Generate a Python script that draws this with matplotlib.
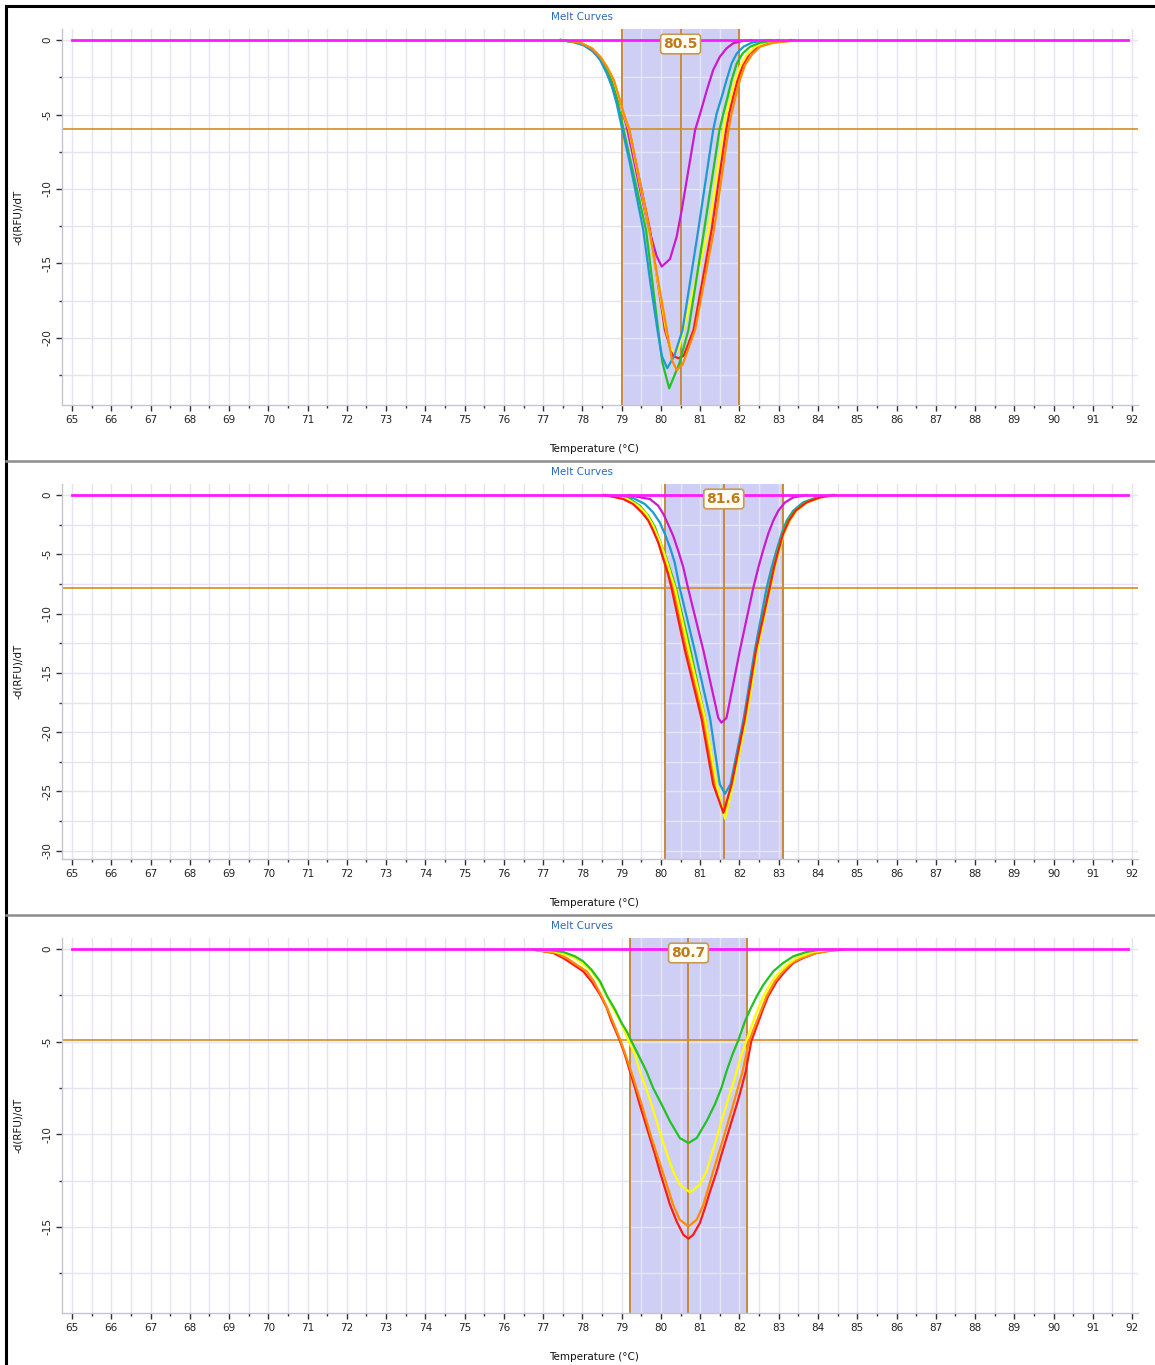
import matplotlib
matplotlib.use("Agg")
import matplotlib.pyplot as plt
from matplotlib.lines import Line2D
from matplotlib.transforms import blended_transform_factory
import numpy as np

plt.rcParams["axes.unicode_minus"] = False

RED = "#ff1a1a"
ORANGE = "#ff8c00"
YELLOW = "#ffff00"
GREEN = "#22c222"
BLUE = "#1e9ad2"
MAGENTA = "#cc19cc"
FLAT_MAGENTA = "#ff19ff"
BROWN = "#c8893a"

# magenta baseline trace drawn across the whole run
FLAT_T = [65.0, 91.9]
FLAT_V = [0.0, 0.0]

# ---- panel 1 (peak 80.5) ----
P1_ZONE = [79.0, 82.0]
P1_PEAK = 80.5
P1_THRESHOLD = -6.0

P1_MAGENTA_T = [77.45, 77.94, 78.19, 78.36, 78.53, 78.70, 78.83, 78.96, 79.13, 79.47, 79.70, 79.89, 80.02,
                80.23, 80.40, 80.53, 80.70, 80.87, 81.00, 81.17, 81.33, 81.50, 81.67, 81.84, 82.06, 82.30]
P1_MAGENTA_V = [0, -0.18, -0.56, -1.01, -1.57, -2.35, -3.36, -4.25, -5.82, -10.07, -12.75, -14.5, -15.21,
                -14.7, -13.2, -11.4, -8.72, -6.04, -4.92, -3.36, -2.01, -1.12, -0.56, -0.22, -0.07, 0]
P1_RED_T = [77.45, 77.94, 78.24, 78.45, 78.62, 78.79, 78.92, 79.04, 79.19, 79.72, 80.10, 80.30, 80.44, 80.58,
            80.83, 81.29, 81.66, 81.74, 81.84, 81.95, 82.09, 82.25, 82.48, 82.78, 83.20, 83.30]
P1_RED_V = [0, -0.18, -0.56, -1.12, -1.79, -2.69, -3.80, -4.92, -6.04, -12.75, -19.46, -21.2, -21.36, -21.2,
            -19.46, -12.75, -6.04, -4.92, -3.80, -2.69, -1.68, -0.94, -0.45, -0.18, -0.07, 0]
P1_YELLOW_T = [77.45, 77.94, 78.24, 78.45, 78.62, 78.79, 78.92, 79.04, 79.19, 79.70, 80.13, 80.25, 80.36, 80.47,
               80.57, 81.21, 81.59, 81.67, 81.78, 81.89, 82.01, 82.18, 82.40, 82.65, 82.95, 83.10]
P1_YELLOW_V = [0, -0.18, -0.56, -1.12, -1.79, -2.69, -3.80, -4.92, -6.04, -12.75, -19.46, -20.7, -21.03, -20.6,
               -19.46, -12.75, -6.04, -4.92, -3.80, -2.69, -1.79, -1.01, -0.45, -0.18, -0.07, 0]
P1_GREEN_T = [77.45, 77.80, 78.05, 78.30, 78.47, 78.65, 78.78, 78.90, 79.05, 79.62, 79.93, 80.04, 80.21, 80.47,
              80.70, 81.10, 81.49, 81.59, 81.70, 81.80, 81.93, 82.08, 82.27, 82.52, 82.78, 83.00]
P1_GREEN_V = [0, -0.16, -0.36, -0.80, -1.30, -2.2, -3.1, -4.2, -6.04, -12.75, -19.46, -21.7, -23.38, -21.7,
              -19.46, -12.75, -6.04, -4.92, -3.80, -2.69, -1.57, -0.90, -0.45, -0.18, -0.07, 0]
P1_BLUE_T = [77.45, 77.77, 78.02, 78.28, 78.45, 78.62, 78.75, 78.87, 79.00, 79.21, 79.55, 79.72, 79.91, 80.02,
             80.16, 80.34, 80.55, 80.95, 81.33, 81.42, 81.55, 81.67, 81.80, 81.93, 82.10, 82.31, 82.52, 82.80]
P1_BLUE_V = [0, -0.13, -0.34, -0.78, -1.34, -2.24, -3.13, -4.25, -5.82, -8.28, -12.75, -16.1, -19.46, -21.2,
             -22.03, -21.2, -19.46, -12.75, -6.04, -4.92, -3.80, -2.69, -1.57, -0.90, -0.45, -0.18, -0.07, 0]
P1_ORANGE_T = [77.45, 77.94, 78.24, 78.45, 78.62, 78.80, 78.93, 79.05, 79.20, 79.70, 80.15, 80.28, 80.40, 80.55,
               80.87, 81.35, 81.72, 81.80, 81.90, 82.01, 82.14, 82.31, 82.52, 82.86, 83.29, 83.40]
P1_ORANGE_V = [0, -0.18, -0.56, -1.12, -1.79, -2.69, -3.80, -4.92, -6.04, -12.75, -19.46, -21.5, -22.15, -21.8,
               -19.46, -12.75, -6.04, -4.92, -3.80, -2.69, -1.68, -1.01, -0.45, -0.18, -0.07, 0]

# ---- panel 2 (peak 81.6) ----
P2_ZONE = [80.1, 83.1]
P2_PEAK = 81.6
P2_THRESHOLD = -7.85

P2_MAGENTA_T = [79.20, 79.38, 79.72, 79.93, 80.06, 80.18, 80.31, 80.44, 80.57, 80.69, 81.08, 81.46, 81.54,
                81.67, 82.01, 82.35, 82.48, 82.60, 82.73, 82.86, 82.99, 83.16, 83.37, 83.62, 83.70]
P2_MAGENTA_V = [0, -0.14, -0.34, -0.90, -1.60, -2.45, -3.43, -4.70, -6.11, -7.85, -13.1, -18.8, -19.2,
                -18.8, -13.1, -7.85, -6.11, -4.70, -3.29, -2.17, -1.32, -0.62, -0.20, -0.06, 0]
P2_RED_T = [78.55, 78.66, 79.04, 79.29, 79.51, 79.68, 79.80, 79.93, 80.02, 80.10, 80.18, 80.27, 80.61, 81.03,
            81.33, 81.59, 81.80, 82.14, 82.42, 82.77, 82.88, 82.99, 83.11, 83.26, 83.43, 83.71, 84.05, 84.30, 84.40]
P2_RED_V = [0, -0.06, -0.34, -0.76, -1.46, -2.17, -3.01, -4.00, -4.98, -5.83, -6.67, -7.85, -13.1, -18.8,
            -24.4, -26.8, -24.4, -18.8, -13.1, -7.85, -6.11, -4.70, -3.29, -2.17, -1.32, -0.62, -0.20, -0.06, 0]
P2_ORANGE_T = [78.55, 78.66, 79.12, 79.38, 79.59, 79.76, 79.89, 80.02, 80.13, 80.23, 80.31, 80.65, 81.08,
               81.37, 81.61, 81.82, 82.15, 82.44, 82.77, 82.88, 82.99, 83.11, 83.26, 83.43, 83.71, 84.05, 84.35, 84.45]
P2_ORANGE_V = [0, -0.06, -0.34, -0.90, -1.60, -2.59, -3.58, -4.70, -5.83, -6.95, -7.85, -13.1, -18.8,
               -24.4, -26.9, -24.4, -18.8, -13.1, -7.85, -6.11, -4.70, -3.29, -2.17, -1.32, -0.62, -0.20, -0.06, 0]
P2_YELLOW_T = [78.60, 78.70, 79.15, 79.42, 79.63, 79.80, 79.93, 80.06, 80.17, 80.27, 80.36, 80.71, 81.12,
               81.42, 81.63, 81.84, 82.18, 82.46, 82.79, 82.90, 83.01, 83.13, 83.28, 83.45, 83.73, 84.07, 84.30, 84.40]
P2_YELLOW_V = [0, -0.06, -0.34, -0.90, -1.60, -2.59, -3.58, -4.70, -5.83, -6.95, -7.85, -13.1, -18.8,
               -24.4, -27.3, -24.4, -18.8, -13.1, -7.85, -6.11, -4.70, -3.29, -2.17, -1.32, -0.62, -0.20, -0.06, 0]
P2_GREEN_T = [78.60, 78.70, 79.21, 79.46, 79.68, 79.85, 79.97, 80.10, 80.23, 80.38, 80.75, 81.12, 81.40,
              81.61, 81.80, 82.14, 82.42, 82.75, 82.86, 82.97, 83.09, 83.23, 83.40, 83.67, 84.00, 84.26, 84.35]
P2_GREEN_V = [0, -0.06, -0.34, -0.90, -1.75, -2.73, -3.86, -4.98, -6.25, -7.85, -13.1, -18.8, -24.4,
              -27.0, -24.4, -18.8, -13.1, -7.85, -6.11, -4.70, -3.29, -2.17, -1.32, -0.62, -0.20, -0.06, 0]
P2_BLUE_T = [78.65, 78.78, 79.29, 79.59, 79.80, 79.97, 80.10, 80.23, 80.35, 80.48, 80.86, 81.25, 81.50,
             81.63, 81.77, 82.11, 82.39, 82.69, 82.82, 82.94, 83.07, 83.20, 83.37, 83.62, 83.96, 84.26, 84.35]
P2_BLUE_V = [0, -0.06, -0.25, -0.76, -1.46, -2.31, -3.29, -4.42, -5.69, -7.85, -13.1, -18.8, -24.4,
             -25.2, -24.4, -18.8, -13.1, -7.85, -6.11, -4.70, -3.29, -2.17, -1.32, -0.62, -0.20, -0.06, 0]

# ---- panel 3 (peak 80.7) ----
P3_ZONE = [79.2, 82.2]
P3_PEAK = 80.7
P3_THRESHOLD = -4.9

P3_RED_T = [76.75, 77.26, 77.51, 77.77, 78.02, 78.23, 78.45, 78.62, 78.74, 78.87, 78.96, 79.08, 79.21, 79.34,
            79.46, 79.59, 79.72, 79.85, 79.97, 80.10, 80.23, 80.40, 80.57, 80.70, 80.82, 80.99, 81.12, 81.25,
            81.42, 81.54, 81.67, 81.80, 81.93, 82.05, 82.16, 82.30, 82.44, 82.61, 82.73, 82.95, 83.16, 83.37,
            83.62, 83.96, 84.30, 84.64]
P3_RED_V = [-0.04, -0.22, -0.49, -0.85, -1.21, -1.75, -2.47, -3.18, -3.90, -4.53, -4.98, -5.70, -6.60, -7.50,
            -8.40, -9.30, -10.20, -11.10, -12.00, -12.90, -13.80, -14.70, -15.42, -15.63, -15.42, -14.79, -13.98,
            -13.08, -12.00, -11.10, -10.20, -9.30, -8.40, -7.50, -6.60, -4.98, -4.17, -3.18, -2.55, -1.75, -1.21,
            -0.76, -0.49, -0.22, -0.09, -0.04]
P3_ORANGE_T = [76.75, 77.34, 77.60, 77.85, 78.11, 78.29, 78.49, 78.63, 78.77, 78.97, 79.24, 79.51, 79.76, 80.04,
               80.31, 80.48, 80.70, 80.91, 81.08, 81.33, 81.59, 81.84, 82.08, 82.25, 82.44, 82.69, 82.90, 83.11,
               83.33, 83.58, 83.96, 84.47]
P3_ORANGE_V = [-0.04, -0.22, -0.49, -0.85, -1.21, -1.75, -2.55, -3.18, -3.90, -4.93, -6.60, -8.40, -10.20, -12.00,
               -13.80, -14.61, -14.97, -14.61, -13.80, -12.00, -10.20, -8.40, -6.60, -4.93, -3.90, -2.55, -1.75,
               -1.21, -0.76, -0.49, -0.22, -0.04]
P3_YELLOW_T = [76.75, 77.26, 77.60, 77.81, 78.02, 78.23, 78.45, 78.62, 78.79, 78.96, 79.17, 79.34, 79.46, 79.62,
               79.76, 79.89, 80.02, 80.16, 80.31, 80.48, 80.74, 80.99, 81.16, 81.29, 81.42, 81.54, 81.67, 81.80,
               81.93, 82.05, 82.18, 82.35, 82.48, 82.61, 82.82, 83.03, 83.24, 83.45, 83.88, 84.30]
P3_YELLOW_V = [-0.04, -0.13, -0.31, -0.49, -0.81, -1.21, -1.84, -2.55, -3.27, -3.90, -4.93, -5.70, -6.60, -7.50,
               -8.40, -9.30, -10.20, -11.10, -12.00, -12.72, -13.13, -12.72, -12.00, -11.10, -10.20, -9.30, -8.40,
               -7.50, -6.60, -5.70, -4.93, -3.90, -3.18, -2.55, -1.75, -1.21, -0.81, -0.49, -0.16, -0.04]
P3_GREEN_T = [76.75, 77.26, 77.51, 77.81, 78.02, 78.23, 78.45, 78.63, 78.83, 79.00, 79.13, 79.25, 79.42, 79.63,
              79.80, 80.02, 80.23, 80.48, 80.70, 80.91, 81.16, 81.37, 81.54, 81.67, 81.82, 81.97, 82.14, 82.27,
              82.44, 82.61, 82.86, 83.11, 83.37, 83.71, 84.05]
P3_GREEN_V = [-0.04, -0.09, -0.16, -0.40, -0.67, -1.12, -1.75, -2.55, -3.27, -4.00, -4.45, -4.98, -5.70, -6.60,
              -7.50, -8.40, -9.30, -10.20, -10.47, -10.20, -9.30, -8.40, -7.50, -6.60, -5.70, -4.93, -3.90, -3.27,
              -2.55, -1.93, -1.21, -0.76, -0.40, -0.16, -0.04]

PANELS = [
    {
        "rect": [62, 29, 1138, 405],
        "ylim": (-24.5, 0.74),
        "ymin_tick": -22.5,
        "zone": P1_ZONE, "peak": P1_PEAK, "threshold": P1_THRESHOLD,
        "curves": [
            (P1_MAGENTA_T, P1_MAGENTA_V, MAGENTA),
            (P1_RED_T, P1_RED_V, RED),
            (P1_YELLOW_T, P1_YELLOW_V, YELLOW),
            (P1_GREEN_T, P1_GREEN_V, GREEN),
            (P1_BLUE_T, P1_BLUE_V, BLUE),
            (P1_ORANGE_T, P1_ORANGE_V, ORANGE),
        ],
    },
    {
        "rect": [62, 484, 1138, 859],
        "ylim": (-30.7, 0.93),
        "ymin_tick": -30.0,
        "zone": P2_ZONE, "peak": P2_PEAK, "threshold": P2_THRESHOLD,
        "curves": [
            (P2_MAGENTA_T, P2_MAGENTA_V, MAGENTA),
            (P2_BLUE_T, P2_BLUE_V, BLUE),
            (P2_GREEN_T, P2_GREEN_V, GREEN),
            (P2_ORANGE_T, P2_ORANGE_V, ORANGE),
            (P2_YELLOW_T, P2_YELLOW_V, YELLOW),
            (P2_RED_T, P2_RED_V, RED),
        ],
    },
    {
        "rect": [62, 938, 1138, 1313],
        "ylim": (-19.64, 0.59),
        "ymin_tick": -17.5,
        "zone": P3_ZONE, "peak": P3_PEAK, "threshold": P3_THRESHOLD,
        "curves": [
            (P3_RED_T, P3_RED_V, RED),
            (P3_ORANGE_T, P3_ORANGE_V, ORANGE),
            (P3_YELLOW_T, P3_YELLOW_V, YELLOW),
            (P3_GREEN_T, P3_GREEN_V, GREEN),
        ],
    },
]

W, H = 1155, 1365


def draw_panel(fig, panel):
    x0, y0, x1, y1 = panel["rect"]
    ax = fig.add_axes([x0 / W, 1 - y1 / H, (x1 - x0) / W, (y1 - y0) / H])
    ax.set_xlim(64.745, 92.15)
    ax.set_ylim(*panel["ylim"])

    ax.set_xticks(np.arange(65, 93, 1))
    ax.set_xticks(np.arange(65.5, 92, 1), minor=True)
    ymin = panel["ymin_tick"]
    ax.set_yticks(np.arange(0, ymin - 0.1, -5))
    ax.set_yticks(np.arange(-2.5, ymin - 0.1, -5), minor=True)

    ax.set_axisbelow(True)
    ax.grid(True, which="both", color="#e4e4f3", linewidth=1.0)

    for side in ["top", "right"]:
        ax.spines[side].set_visible(False)
    for side in ["left", "bottom"]:
        ax.spines[side].set_color("#c4c4d4")
        ax.spines[side].set_linewidth(1.0)

    ax.tick_params(which="major", length=4, width=1, color="#303030",
                   labelsize=7.5, labelcolor="#222222", pad=3)
    ax.tick_params(which="minor", length=2.5, width=1, color="#303030")
    for lab in ax.get_yticklabels():
        lab.set_rotation(90)
        lab.set_va("center")

    lo, hi = panel["zone"]
    ax.axvspan(lo, hi, color="#cfcff6", zorder=0.3, lw=0)
    ax.axvline(lo, color=BROWN, lw=1.4, zorder=1)
    ax.axvline(hi, color=BROWN, lw=1.4, zorder=1)
    ax.axvline(panel["peak"], color=BROWN, lw=1.4, zorder=1)
    ax.axhline(panel["threshold"], color="#d28f20", lw=1.2, zorder=1)

    for t, v, color in panel["curves"]:
        ax.plot(t, v, color=color, lw=1.6, zorder=2, solid_joinstyle="round")

    ax.plot(FLAT_T, FLAT_V, color=FLAT_MAGENTA, lw=2.0, zorder=3)

    trans = blended_transform_factory(ax.transData, ax.transAxes)
    ax.text(panel["peak"], 0.96, f"{panel['peak']:.1f}", transform=trans,
            ha="center", va="center", fontsize=10, fontweight="bold", color="#c07a1a",
            bbox=dict(boxstyle="round,pad=0.2", fc="#fffdf5", ec="#c89a50", lw=1.2), zorder=5)

    fig.text(582 / W, 1 - (y0 - 12) / H, "Melt Curves", ha="center", va="center",
             fontsize=7.5, color="#2a6ab8")
    fig.text(594 / W, 1 - (y1 + 44) / H, "Temperature (°C)", ha="center", va="center",
             fontsize=7.5, color="#111111")
    fig.text(18 / W, 1 - (y0 + y1) / 2 / H, "-d(RFU)/dT", ha="center", va="center",
             rotation=90, fontsize=7.5, color="#111111")
    return ax


def main():
    fig = plt.figure(figsize=(W / 100, H / 100), dpi=100)
    fig.patch.set_facecolor("white")

    for panel in PANELS:
        draw_panel(fig, panel)

    # frame: black left/top edge and gray separators between panels
    fig.add_artist(Line2D([6 / W, 6 / W], [0, 1 - 6 / H], color="black", lw=2.2))
    fig.add_artist(Line2D([6 / W, 1], [1 - 6 / H, 1 - 6 / H], color="black", lw=2.2))
    for ysep in [461, 915]:
        fig.add_artist(Line2D([6 / W, 1], [1 - ysep / H, 1 - ysep / H], color="#8c8c8c", lw=1.8))

    fig.savefig("out.png", dpi=100, facecolor="white")


if __name__ == "__main__":
    main()
